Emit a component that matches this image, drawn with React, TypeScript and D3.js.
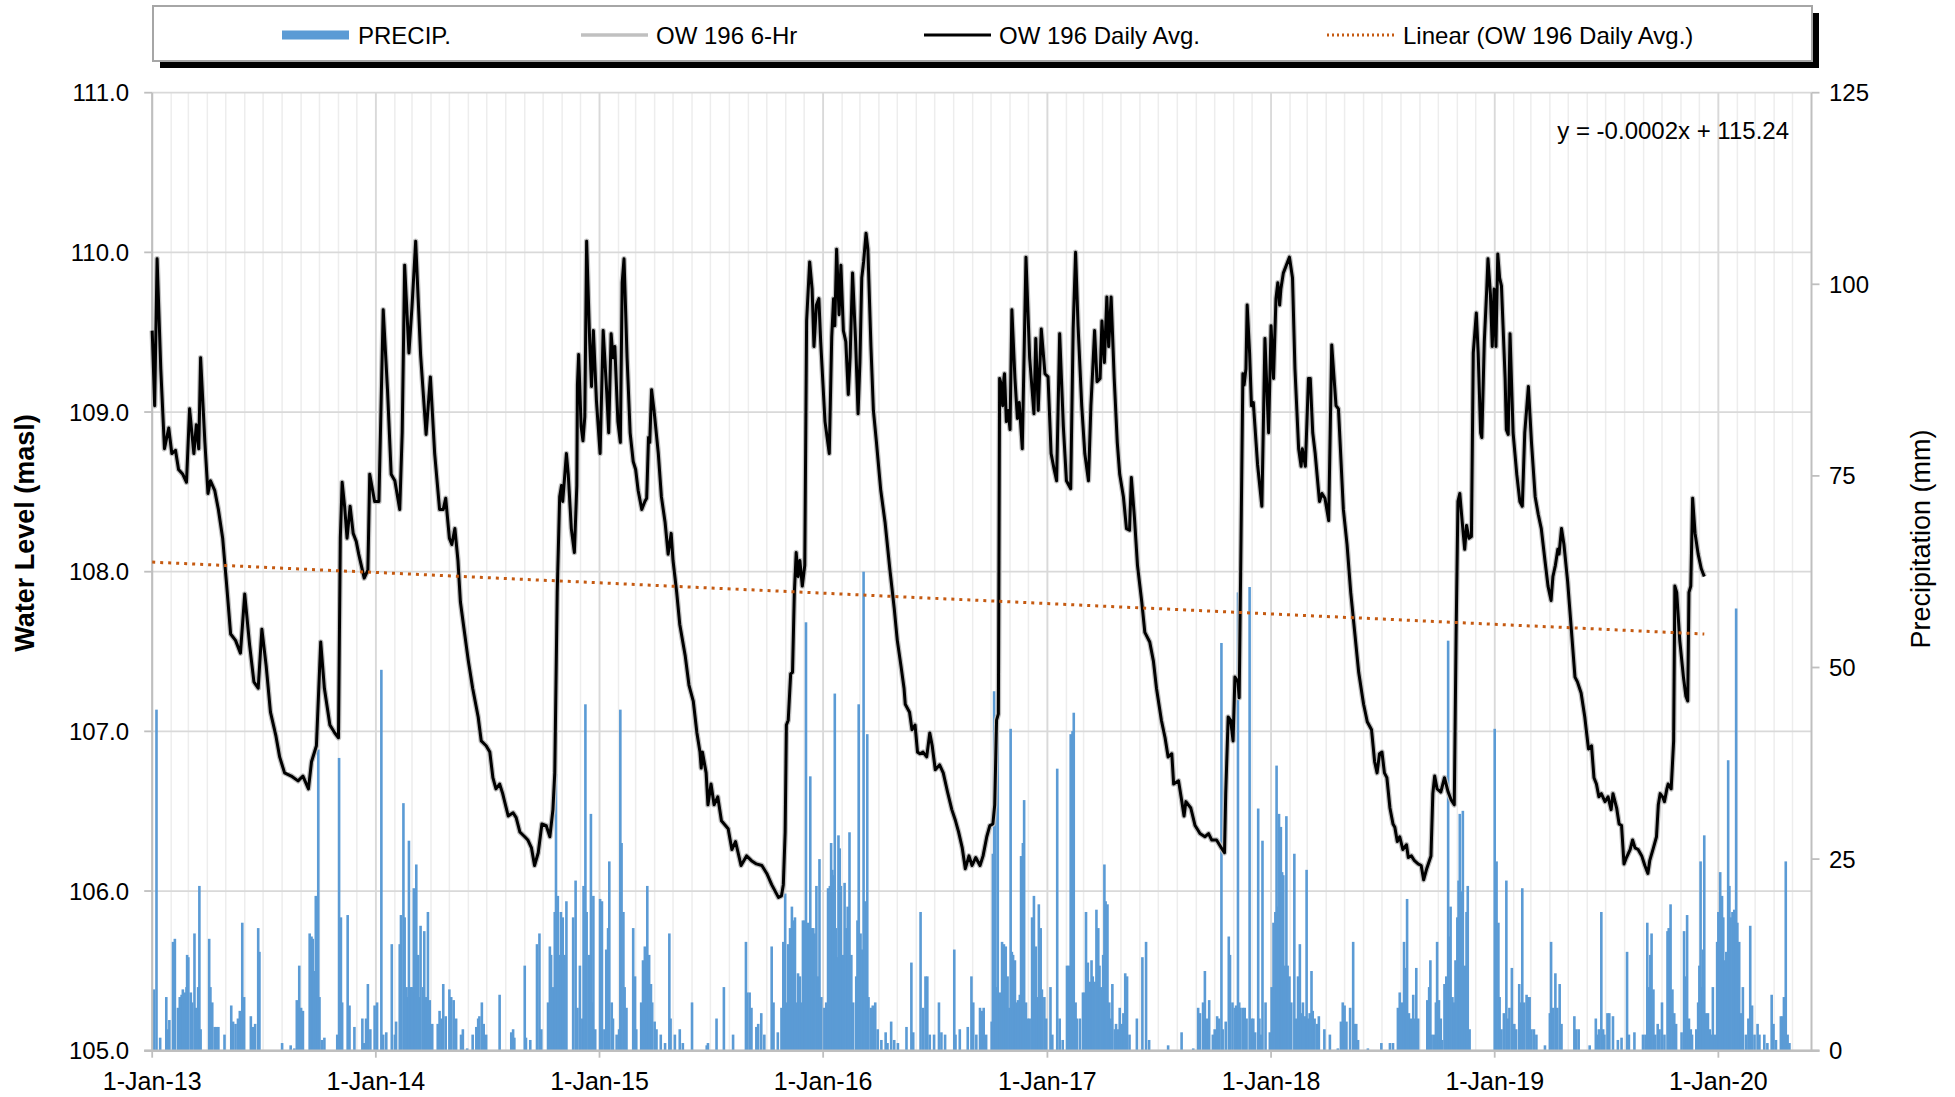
import React from "react";
import * as d3 from "d3";

// Dates are stored as days since 1-Jan-2013
const START = new Date(2013, 0, 1);
const END = new Date(2020, 5, 1);

// OW 196 daily average water level [day, masl]
const waterLevel: [number, number][] = [
[0,109.51],[4,109.04],[8,109.96],[14,109.27],[20,108.77],[27,108.90],[32,108.74],[38,108.76],[43,108.64],[50,108.61],[56,108.56],[61,109.02],[68,108.74],[72,108.92],[76,108.77],[79,109.34],[86,108.81],[91,108.49],[95,108.57],[102,108.51],[108,108.39],[115,108.21],[121,107.94],[128,107.61],[136,107.57],[144,107.49],[151,107.86],[159,107.54],[166,107.31],[173,107.27],[179,107.64],[186,107.41],[193,107.12],[202,106.97],[208,106.84],[216,106.74],[227,106.72],[238,106.69],[246,106.72],[255,106.64],[260,106.81],[268,106.91],[275,107.56],[281,107.27],[290,107.04],[298,106.99],[304,106.96],[307,108.21],[310,108.56],[314,108.41],[318,108.21],[323,108.41],[328,108.24],[333,108.19],[337,108.11],[346,107.96],[352,108.01],[355,108.61],[363,108.44],[370,108.44],[377,109.64],[384,109.14],[390,108.61],[396,108.57],[404,108.39],[408,108.87],[412,109.92],[419,109.37],[424,109.66],[430,110.07],[438,109.36],[447,108.86],[454,109.22],[461,108.74],[469,108.39],[475,108.39],[479,108.46],[485,108.21],[489,108.17],[494,108.27],[499,108.07],[503,107.81],[510,107.61],[516,107.44],[523,107.27],[532,107.09],[537,106.94],[545,106.91],[551,106.87],[556,106.71],[561,106.64],[567,106.67],[572,106.61],[581,106.47],[589,106.49],[594,106.46],[600,106.37],[608,106.34],[613,106.32],[619,106.27],[624,106.16],[630,106.24],[636,106.42],[643,106.41],[649,106.34],[654,106.51],[657,106.74],[661,107.87],[665,108.47],[668,108.54],[670,108.44],[676,108.74],
[679,108.61],[684,108.27],[689,108.12],[693,108.54],[694,109.17],[696,109.36],[700,108.91],[703,108.82],[706,108.97],[709,110.07],[714,109.44],[717,109.16],[720,109.51],[725,109.07],[731,108.74],[736,109.51],[742,109.11],[745,108.87],[749,109.49],[752,109.34],[755,109.41],[760,108.94],[764,108.81],[767,109.81],[770,109.96],[775,109.34],[780,108.87],[785,108.69],[789,108.64],[793,108.51],[799,108.39],[804,108.44],[807,108.46],[810,108.84],[812,108.81],[815,109.14],[819,109.01],[826,108.74],[831,108.47],[837,108.31],[842,108.11],[847,108.24],[850,108.07],[856,107.87],[861,107.67],[870,107.47],[876,107.29],[883,107.19],[889,106.99],[894,106.87],[896,106.77],[898,106.87],[904,106.74],[907,106.54],[912,106.67],[917,106.54],[923,106.59],[929,106.44],[940,106.39],[946,106.26],[952,106.31],[961,106.16],[970,106.22],[978,106.19],[986,106.17],[995,106.16],[1003,106.11],[1011,106.04],[1022,105.96],[1027,105.97],[1030,106.04],[1033,106.37],[1035,107.04],[1038,107.07],[1042,107.36],[1045,107.37],[1048,107.87],[1051,108.12],[1054,107.97],[1057,108.07],[1061,107.91],[1065,108.04],[1068,109.57],[1073,109.94],[1077,109.77],[1080,109.41],[1084,109.67],[1088,109.71],[1091,109.44],[1098,108.94],[1105,108.74],[1109,109.47],[1112,109.71],[1114,109.54],[1117,110.02],[1121,109.61],[1124,109.92],[1128,109.51],[1132,109.44],[1136,109.11],[1139,109.34],[1143,109.87],[1148,109.44],[1152,108.99],[1155,109.31],[1158,109.84],[1161,109.94],[1165,110.12],[1168,110.02],[1173,109.41],[1177,109.01],[1182,108.81],[1189,108.51],[1196,108.31],[1204,108.01],[1211,107.77],[1216,107.57],[1222,107.41],[1227,107.27],[1229,107.17],[1236,107.12],[1240,107.01],[1245,107.04],[1249,106.87],[1253,106.86],[1258,106.87],[1264,106.84],[1269,106.99],[1273,106.91],[1278,106.76],[1285,106.79],[1291,106.74],[1298,106.62],[1305,106.51],[1311,106.44],[1316,106.37],[1322,106.27],[1327,106.14],[1333,106.22],[1338,106.16],[1344,106.21],[1351,106.16],
[1356,106.22],[1362,106.34],[1367,106.41],[1372,106.42],[1375,106.54],[1378,107.07],[1381,107.11],[1383,109.21],[1386,109.17],[1388,109.04],[1390,109.21],[1391,109.24],[1394,108.94],[1397,109.01],[1400,108.89],[1403,109.64],[1408,109.21],[1412,108.96],[1415,109.06],[1420,108.77],[1426,109.97],[1432,109.34],[1439,108.99],[1442,109.46],[1446,109.01],[1451,109.52],[1457,109.24],[1462,109.22],[1467,108.74],[1472,108.64],[1476,108.57],[1481,109.49],[1487,108.91],[1492,108.57],[1499,108.52],[1503,109.52],[1507,110.00],[1511,109.54],[1517,109.04],[1522,108.74],[1528,108.57],[1532,109.04],[1535,109.27],[1538,109.51],[1542,109.19],[1547,109.21],[1550,109.57],[1554,109.31],[1558,109.72],[1561,109.41],[1565,109.72],[1570,109.21],[1575,108.81],[1579,108.61],[1585,108.47],[1590,108.27],[1595,108.26],[1598,108.59],[1603,108.34],[1608,108.04],[1615,107.81],[1620,107.62],[1628,107.56],[1634,107.44],[1639,107.27],[1647,107.07],[1653,106.96],[1658,106.84],[1664,106.86],[1667,106.67],[1675,106.69],[1680,106.57],[1684,106.47],[1687,106.56],[1695,106.52],[1702,106.41],[1710,106.36],[1718,106.34],[1724,106.36],[1729,106.32],[1737,106.32],[1745,106.27],[1750,106.24],[1752,106.61],[1756,107.09],[1760,107.07],[1764,106.94],[1767,107.34],[1772,107.31],[1774,107.21],[1777,108.21],[1780,109.24],[1782,109.17],[1785,109.27],[1787,109.67],[1791,109.37],[1794,109.04],[1797,109.06],[1804,108.67],[1811,108.41],[1816,109.46],[1822,108.87],[1826,109.54],[1830,109.21],[1834,109.71],[1837,109.81],[1840,109.67],[1842,109.77],[1846,109.87],[1851,109.92],[1856,109.97],[1861,109.84],[1865,109.27],[1871,108.77],[1875,108.66],[1877,108.77],[1882,108.66],[1887,109.21],[1890,109.21],[1894,108.87],[1898,108.74],[1905,108.44],[1909,108.49],[1914,108.46],[1920,108.32],[1925,109.42],[1932,109.04],[1936,109.02],[1944,108.39],[1950,108.17],[1956,107.87],[1962,107.64],[1969,107.37],[1977,107.17],[1983,107.06],[1990,107.01],[1995,106.81],[1999,106.74],[2003,106.86],[2007,106.87],[2011,106.74],[2015,106.71],[2020,106.52],[2025,106.42],[2028,106.40],
[2032,106.31],[2036,106.34],[2041,106.26],[2047,106.29],[2050,106.21],[2055,106.22],[2060,106.19],[2066,106.17],[2071,106.16],[2075,106.07],[2080,106.14],[2087,106.22],[2090,106.61],[2093,106.72],[2097,106.64],[2103,106.62],[2109,106.71],[2115,106.62],[2120,106.57],[2125,106.54],[2128,107.61],[2131,108.44],[2134,108.49],[2138,108.31],[2142,108.14],[2145,108.29],[2149,108.21],[2153,108.22],[2156,109.37],[2161,109.62],[2164,109.37],[2168,108.87],[2170,108.84],[2174,109.44],[2178,109.77],[2180,109.96],[2184,109.74],[2187,109.41],[2190,109.77],[2193,109.41],[2196,109.99],[2199,109.84],[2202,109.79],[2208,109.21],[2210,108.89],[2213,108.86],[2216,109.49],[2221,108.87],[2227,108.61],[2232,108.44],[2236,108.41],[2240,108.87],[2246,109.16],[2251,108.81],[2257,108.47],[2262,108.36],[2267,108.27],[2273,108.07],[2278,107.91],[2283,107.82],[2286,107.97],[2290,108.04],[2294,108.14],[2296,108.11],[2300,108.27],[2304,108.17],[2310,107.94],[2316,107.64],[2322,107.34],[2326,107.31],[2332,107.24],[2338,107.09],[2344,106.89],[2349,106.91],[2353,106.71],[2357,106.67],[2361,106.59],[2365,106.61],[2371,106.56],[2376,106.59],[2381,106.51],[2384,106.61],[2390,106.52],[2394,106.42],[2398,106.41],[2402,106.17],[2406,106.21],[2412,106.26],[2416,106.32],[2420,106.27],[2425,106.26],[2431,106.22],[2436,106.16],[2441,106.11],[2444,106.19],[2450,106.27],[2455,106.34],[2458,106.54],[2461,106.61],[2465,106.59],[2468,106.56],[2472,106.64],[2474,106.67],[2479,106.64],[2483,106.94],[2485,107.91],[2488,107.87],[2493,107.57],[2499,107.34],[2503,107.22],[2506,107.19],[2508,107.87],[2511,107.91],[2514,108.46],[2518,108.24],[2523,108.11],[2528,108.02],[2533,107.97]
];

// Daily precipitation [day, mm]
const precipitation: [number, number][] = [
[3,8],[7,44.5],[13,1.7],[23,7],[26,2.8],[28,4],[34,14.2],[37,14.6],[42,5.6],[45,7],[48,7.3],[50,8],[53,7.6],[56,8.3],[57,12.5],[59,12.2],[63,7.6],[65,6.3],[69,15.3],[72,5.6],[75,8.3],[77,21.5],[79,2.8],[93,14.6],[95,8.3],[98,6.3],[102,3.1],[105,3.1],[108,3.1],[118,2.1],[129,5.9],[132,3.8],[136,3.5],[140,4.2],[143,5.2],[147,16.7],[150,7],[161,4.5],[164,3.1],[168,3.5],[173,16],[175,12.9],[212,1],[226,0.7],[232,0.3],[236,6.6],[240,11.1],[243,5.6],[246,5.2],[257,15.3],[260,14.9],[262,14.6],[264,10.4],[267,20.2],[271,39.3],[273,7],[277,1.4],[281,1.7],[302,2.1],[305,38.2],[308,17.4],[310,6.3],[319,17.7],[322,5.9],[330,3.1],[343,4.2],[346,1],[349,4.2],[352,8.7],[356,2.8],[363,5.9],[367,6.3],[374,49.7],[377,2.1],[382,2.4],[391,13.9],[396,2.1],[398,3.8],[404,13.9],[406,17.7],[410,32.3],[412,17.4],[415,8.3],[417,7],[419,27.4],[422,8.3],[424,8.3],[427,21.2],[429,7.6],[431,24.3],[434,12.5],[436,7],[438,16.3],[442,8.3],[444,15.6],[447,7],[450,18.1],[453,6.6],[457,3.5],[466,3.5],[469,5.2],[472,4.2],[475,8.7],[479,4.5],[485,8],[488,7],[492,6.6],[496,4.2],[504,2.1],[507,2.8],[514,0.3],[523,2.1],[529,3.1],[532,4.2],[534,4.5],[538,6.3],[541,3.5],[545,2.1],[567,7.3],[586,2.4],[589,2.8],[591,1.7],[608,11.1],[610,1.7],[617,1.4],[628,13.9],[632,15.3],[635,2.8],[646,6.3],[649,13.6],[651,12.5],[654,8.3],[657,18.1],[659,36.1],[662,20.2],[665,12.5],[667,18.1],[670,17.4],[673,12.5],[676,19.5],
[687,17.4],[691,22.2],[694,5.6],[698,11.1],[702,4.2],[704,21.5],[707,45.2],[709,18.1],[713,12.5],[716,30.9],[718,6.3],[720,20.2],[723,2.8],[731,19.8],[734,19.5],[738,2.8],[741,13.2],[744,16],[746,24.7],[750,6.3],[752,4.2],[758,2.1],[762,2.8],[764,44.5],[766,27.1],[769,18.1],[771,8.3],[774,5.6],[785,16],[788,9.7],[790,2.8],[798,6.3],[801,11.8],[804,13.6],[808,21.5],[811,12.5],[814,8.7],[816,6.3],[820,3.8],[823,2.8],[830,2.1],[837,1],[844,15.3],[846,4.2],[853,2.1],[861,2.8],[866,1],[881,6.3],[905,0.7],[907,1],[921,4.2],[933,8.3],[948,2.1],[969,14.2],[971,7.6],[975,7.6],[978,5.6],[986,3.1],[989,3.5],[994,4.9],[999,2.1],[1011,13.6],[1014,6.3],[1021,2.4],[1027,5.6],[1030,14.2],[1033,20.5],[1035,6.3],[1038,13.9],[1041,16],[1044,18.8],[1046,17],[1049,17.4],[1051,6.3],[1054,10.1],[1057,9.7],[1060,6.3],[1062,17],[1065,17],[1067,55.9],[1070,16.7],[1072,16],[1074,35.8],[1077,16],[1079,16],[1081,15.3],[1084,21.5],[1087,9.7],[1089,25],[1092,7],[1097,5.6],[1100,6.3],[1103,21.2],[1106,21.5],[1108,27.1],[1110,23.6],[1112,22.9],[1114,46.6],[1116,16],[1118,12.2],[1120,28.1],[1122,26.4],[1124,21.5],[1127,12.5],[1130,21.9],[1133,16],[1135,18.8],[1138,28.5],[1141,12.5],[1144,6.3],[1149,9.7],[1151,17],[1153,45.2],[1156,15.3],[1159,13.2],[1161,62.5],[1164,19.5],[1167,41.3],[1169,7],[1173,5.6],[1176,5.9],[1180,6.3],[1184,2.8],[1190,1.4],[1197,2.4],[1200,1],[1206,3.8],[1211,1.4],[1217,1],[1231,3.1],[1239,11.5],[1242,2.4],[1254,18.1],[1258,5.6],[1262,9.7],[1265,9.7],[1269,2.1],[1276,2.1],[1284,6.3],[1288,2.4],[1294,2.1],[1309,13.2],[1311,2.1],[1318,2.8],[1331,3.1],[1337,9.7],[1340,6.3],[1345,2.1],[1351,5.6],
[1354,5.2],[1357,5.6],[1361,2.1],[1370,3.8],[1372,25.7],[1374,46.9],[1376,43.8],[1378,8.3],[1380,44.8],[1384,7.6],[1387,14.2],[1390,13.9],[1393,13.6],[1396,9.7],[1399,5.6],[1401,42],[1403,12.9],[1405,12.5],[1408,11.8],[1410,6.3],[1413,6.6],[1416,7.3],[1418,25.4],[1421,27.1],[1423,32.7],[1426,6.3],[1429,4.2],[1432,4.2],[1436,17.4],[1439,20.2],[1442,13.6],[1444,7],[1447,19.1],[1450,16],[1452,8],[1456,7],[1459,4.2],[1466,8.3],[1469,2.1],[1477,36.8],[1481,4.2],[1486,1.4],[1493,11.1],[1496,11.1],[1499,41.3],[1502,41.7],[1504,44.1],[1507,6.3],[1509,4.2],[1514,4.2],[1519,7.6],[1522,7.6],[1524,18.1],[1527,11.5],[1530,9],[1533,11.8],[1535,9.7],[1538,9],[1541,18.4],[1544,16],[1546,11.1],[1549,8.3],[1552,12.5],[1554,24.3],[1556,19.5],[1559,19.1],[1562,6.3],[1564,4.2],[1567,8.7],[1571,2.8],[1573,3.5],[1576,2.8],[1579,5.6],[1583,3.5],[1585,4.9],[1588,10.1],[1591,9.7],[1595,2.1],[1607,4.2],[1616,12.2],[1622,14.2],[1627,1.4],[1658,0.7],[1680,2.4],[1699,0.3],[1707,5.6],[1710,4.9],[1715,6.3],[1718,10.4],[1721,4.2],[1725,6.6],[1731,2.1],[1734,2.8],[1738,4.5],[1741,4.2],[1745,53.2],[1747,2.8],[1752,3.8],[1757,14.9],[1759,12.5],[1763,6.3],[1767,5.6],[1769,5.9],[1772,59.8],[1774,6.3],[1776,5.6],[1780,5.6],[1783,5.6],[1786,4.2],[1791,60.5],[1794,4.2],[1797,4.2],[1800,2.4],[1805,31.6],[1807,4.2],[1810,2.1],[1812,27.4],[1817,6.3],[1824,2.4],[1827,8.3],[1830,16.7],[1833,18.1],[1835,37.2],[1837,18.8],[1839,30.9],[1842,29.2],[1844,23.3],[1846,22.9],[1848,11.1],[1851,30.6],[1853,11.1],[1856,9.7],[1859,6.3],[1864,25.7],[1867,4.2],[1870,9.7],[1873,13.9],[1875,4.9],[1878,6.3],[1881,4.5],[1884,23.6],[1886,4.2],[1889,4.9],[1892,10.4],[1894,5.2],[1897,4.2],[1901,3.5],[1904,4.5],[1913,2.8],[1922,2.1],[1935,0.3],[1940,3.8],[1943,6.3],[1946,5.9],[1949,3.8],[1955,5.6],[1960,14.2],[1962,3.5],[1965,3.5],[1968,1.4],[1984,0.3],[2006,1],[2020,1],[2025,1],
[2033,5.6],[2036,7.6],[2040,6.3],[2043,14.2],[2046,10.8],[2048,19.8],[2051,4.9],[2054,4.2],[2058,7.3],[2060,4.2],[2063,10.8],[2066,4.2],[2081,6.6],[2084,8.3],[2086,11.8],[2088,2.1],[2092,2.1],[2095,6.3],[2097,14.2],[2100,6.6],[2103,4.2],[2105,1.4],[2109,8.7],[2112,9.7],[2115,53.5],[2117,14.9],[2119,18.8],[2122,7],[2125,6.3],[2127,11.8],[2130,17.4],[2132,22.2],[2134,30.9],[2137,20.8],[2139,31.3],[2142,11.1],[2145,18.1],[2147,21.5],[2150,2.8],[2191,42],[2194,24.7],[2197,16.7],[2199,7],[2202,2.8],[2206,4.9],[2210,22.2],[2213,4.2],[2215,5.6],[2219,10.8],[2223,3.5],[2226,2.8],[2231,8.7],[2233,6.3],[2236,21.2],[2239,6.3],[2243,7.3],[2245,7],[2248,7],[2251,2.8],[2255,2.8],[2259,2.1],[2273,0.7],[2281,4.9],[2283,14.2],[2286,5.6],[2290,10.1],[2293,5.6],[2297,8.7],[2300,3.5],[2321,4.5],[2324,2.8],[2328,2.8],[2346,0.7],[2356,4.2],[2359,2.1],[2361,2.8],[2365,18.1],[2368,2.8],[2370,2.1],[2375,4.9],[2378,4.9],[2384,4.5],[2392,1.4],[2398,1.7],[2407,12.9],[2410,2.1],[2419,2.4],[2433,2.1],[2437,2.1],[2440,16.7],[2443,8.3],[2445,12.5],[2447,15.3],[2450,8],[2453,2.1],[2457,3.5],[2460,2.8],[2464,6.3],[2468,2.1],[2473,15.6],[2475,16],[2478,19.1],[2481,8],[2484,4.9],[2487,3.5],[2496,2.4],[2500,15.6],[2502,9.7],[2505,17.7],[2508,4.2],[2511,2.8],[2513,2.1],[2520,2.8],[2523,6.3],[2525,11.1],[2527,24.7],[2529,8.3],[2531,13.2],[2533,28.1],[2536,4.9],[2539,4.9],[2542,2.8],[2544,2.1],[2547,8.3],[2550,2.1],[2554,14.2],[2556,18.1],[2559,23.3],[2562,20.2],[2564,17.4],[2566,11.8],[2569,12.9],[2572,37.9],[2574,21.5],[2576,17.4],[2579,18.1],[2582,18.4],[2585,57.7],[2587,16.7],[2590,14.2],[2593,4.9],[2596,8.3],[2601,2.1],[2605,4.2],[2608,16.3],[2611,5.9],[2615,2.1],[2620,3.5],[2623,2.1],[2631,2.1],[2636,1],[2643,7.3],[2646,3.5],[2650,1.4],[2658,4.5],[2661,4.5],[2663,7],[2666,24.7],[2669,2.1],[2672,1]
];

// Linear trend of the daily average (end points)
const trendDays = [0, 2533];
const trendLevels = [108.06, 107.61];
const trendEquation = "y = -0.0002x + 115.24";

const levelTicks = [105, 106, 107, 108, 109, 110, 111];
const precipTicks = [0, 25, 50, 75, 100, 125];
const legendLabels = ["PRECIP.", "OW 196 6-Hr", "OW 196 Daily Avg.", "Linear (OW 196 Daily Avg.)"];
const leftTitle = "Water Level (masl)";
const rightTitle = "Precipitation (mm)";

const FONT = "'Liberation Sans', Arial, Helvetica, sans-serif";
const BLUE = "#5b9bd5";
const ORANGE = "#c55a11";
const GRAY6 = "#c0c0c0";

export default function App() {
  const W = 1955, H = 1097;
  const L = 152.2, R = 1811.5, T = 92.7, B = 1050.7;
  const x = d3.scaleTime().domain([START, END]).range([L, R]);
  const yL = d3.scaleLinear().domain([105, 111]).range([B, T]);
  const yR = d3.scaleLinear().domain([0, 125]).range([B, T]);
  const toDate = (d: number) => d3.timeDay.offset(START, d);
  const line = d3.line<[number, number]>().x(d => x(toDate(d[0]))).y(d => yL(d[1]));
  const months = d3.timeMonth.range(START, END);
  const years = d3.timeYear.range(START, d3.timeDay.offset(END, 1));
  const fmt = d3.timeFormat("%-d-%b-%y");
  const trendPts: [number, number][] = trendDays.map((d, i) => [d, trendLevels[i]]);
  const barW = 2.6;

  const legendY = 35;
  const fs = 24;

  return (
    <svg width={W} height={H} style={{ position: "absolute", left: 0, top: 0, background: "#fff" }} fontFamily={FONT}>
      <rect x={0} y={0} width={W} height={H} fill="#fff" />
      {months.map((m, i) => (
        <line key={"m" + i} x1={x(m)} x2={x(m)} y1={T} y2={B} stroke="#ededed" strokeWidth={1.5} />
      ))}
      {years.map((m, i) => (
        <line key={"y" + i} x1={x(m)} x2={x(m)} y1={T} y2={B} stroke="#d9d9d9" strokeWidth={1.8} />
      ))}
      {levelTicks.map(t => (
        <line key={"h" + t} x1={L} x2={R} y1={yL(t)} y2={yL(t)} stroke="#d9d9d9" strokeWidth={1.8} />
      ))}
      {precipitation.map(([d, v], i) => (
        <rect key={"p" + i} x={x(toDate(d)) - barW / 2} y={yR(v)} width={barW} height={yR(0) - yR(v)} fill={BLUE} />
      ))}
      <line x1={L} x2={L} y1={T} y2={B} stroke="#bfbfbf" strokeWidth={2} />
      <line x1={R} x2={R} y1={T} y2={B} stroke="#bfbfbf" strokeWidth={2} />
      <line x1={L - 8} x2={R + 8} y1={B} y2={B} stroke="#bfbfbf" strokeWidth={2.5} />
      {levelTicks.map(t => (
        <line key={"lt" + t} x1={L - 8} x2={L} y1={yL(t)} y2={yL(t)} stroke="#bfbfbf" strokeWidth={1.8} />
      ))}
      {precipTicks.map(t => (
        <line key={"rt" + t} x1={R} x2={R + 8} y1={yR(t)} y2={yR(t)} stroke="#bfbfbf" strokeWidth={1.8} />
      ))}
      {years.map((m, i) => (
        <line key={"xt" + i} x1={x(m)} x2={x(m)} y1={B} y2={B + 7} stroke="#bfbfbf" strokeWidth={1.8} />
      ))}
      <path d={line(waterLevel) || ""} fill="none" stroke={GRAY6} strokeWidth={5.5} strokeLinejoin="round" />
      <path d={line(waterLevel) || ""} fill="none" stroke="#000" strokeWidth={3} strokeLinejoin="round" />
      <path d={line(trendPts) || ""} fill="none" stroke={ORANGE} strokeWidth={3} strokeDasharray="3 5" />
      <text x={1789} y={130} textAnchor="end" dominantBaseline="central" fontSize={fs}>{trendEquation}</text>
      {levelTicks.map(t => (
        <text key={"ll" + t} x={129} y={yL(t)} textAnchor="end" dominantBaseline="central" fontSize={fs}>{d3.format(".1f")(t)}</text>
      ))}
      {precipTicks.map(t => (
        <text key={"rl" + t} x={1829} y={yR(t)} textAnchor="start" dominantBaseline="central" fontSize={fs}>{t}</text>
      ))}
      {years.map((m, i) => (
        <text key={"xl" + i} x={x(m)} y={1081} textAnchor="middle" dominantBaseline="central" fontSize={25}>{fmt(m)}</text>
      ))}
      <text transform={`translate(25,533) rotate(-90)`} textAnchor="middle" dominantBaseline="central" fontSize={27} fontWeight="bold">{leftTitle}</text>
      <text transform={`translate(1921,539) rotate(-90)`} textAnchor="middle" dominantBaseline="central" fontSize={27}>{rightTitle}</text>
      <rect x={160} y={13} width={1659} height={55} fill="#000" />
      <rect x={153} y={6} width={1659} height={55} fill="#fff" stroke="#a6a6a6" strokeWidth={2} />
      <rect x={282} y={legendY - 4.5} width={67} height={9} fill={BLUE} />
      <text x={358} y={legendY} dominantBaseline="central" fontSize={fs}>{legendLabels[0]}</text>
      <line x1={581} x2={648} y1={legendY} y2={legendY} stroke={GRAY6} strokeWidth={3.5} />
      <text x={656} y={legendY} dominantBaseline="central" fontSize={fs}>{legendLabels[1]}</text>
      <line x1={924} x2={991} y1={legendY} y2={legendY} stroke="#000" strokeWidth={3} />
      <text x={999} y={legendY} dominantBaseline="central" fontSize={fs}>{legendLabels[2]}</text>
      <line x1={1327} x2={1394} y1={legendY} y2={legendY} stroke={ORANGE} strokeWidth={3} strokeDasharray="2 3" />
      <text x={1403} y={legendY} dominantBaseline="central" fontSize={fs}>{legendLabels[3]}</text>
    </svg>
  );
}
